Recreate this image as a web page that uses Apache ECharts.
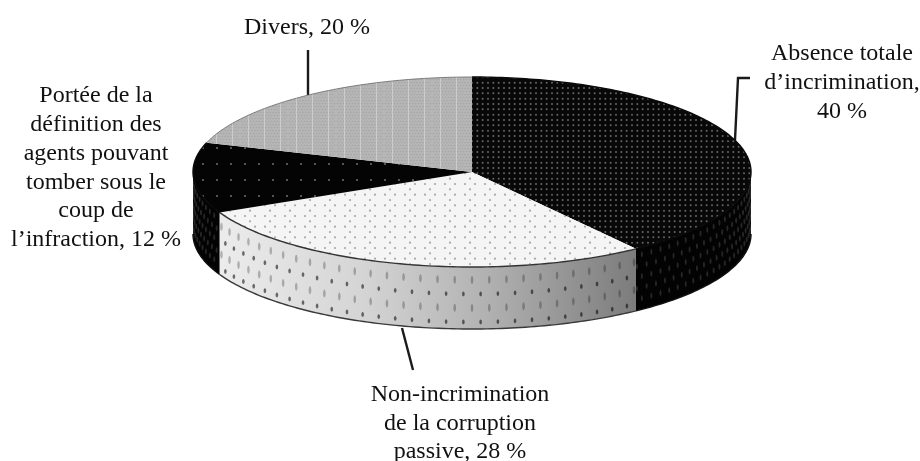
<!DOCTYPE html>
<html>
<head>
<meta charset="utf-8">
<style>
  html, body { margin: 0; padding: 0; background: #fff; }
  #the-chart { width: 920px; height: 461px; filter: blur(0.4px); }
</style>
<script src="https://cdn.jsdelivr.net/npm/echarts@6/dist/echarts.min.js"></script>
</head>
<body>
<div id="the-chart"></div>
<script>
// values, clockwise from 12 o'clock
const sliceNames = [
  "Absence totale d’incrimination",
  "Non-incrimination de la corruption passive",
  "Portée de la définition des agents pouvant tomber sous le coup de l’infraction",
  "Divers"
];
const sliceValues = [40, 28, 12, 20];

const labelAbsence = ["Absence totale", "d’incrimination,", "40 %"];
const labelNonIncrimination = ["Non-incrimination", "de la corruption", "passive, 28 %"];
const labelPortee = ["Portée de la", "définition des", "agents pouvant", "tomber sous le", "coup de", "l’infraction, 12 %"];
const labelDivers = ["Divers, 20 %"];

// disc geometry
const cx = 472, cy = 172, rx = 279, ry = 95, depth = 62;

function makeTile(w, h, bg, color, r, dots) {
  const c = document.createElement("canvas");
  c.width = w;
  c.height = h;
  const ctx = c.getContext("2d");
  ctx.fillStyle = bg;
  ctx.fillRect(0, 0, w, h);
  ctx.fillStyle = color;
  dots.forEach((d) => {
    ctx.beginPath();
    ctx.arc(d[0], d[1], r, 0, Math.PI * 2);
    ctx.fill();
  });
  return c;
}

function gridDots(w, h, stepX, stepY, stagger) {
  const out = [];
  let row = 0;
  for (let y = stepY / 2; y < h; y += stepY, row++) {
    for (let x = stepX / 2 + (stagger && row % 2 ? stepX / 2 : 0); x < w; x += stepX) {
      out.push([x, y]);
    }
  }
  return out;
}

function makeDiversTile() {
  const c = makeTile(48, 12, "#b6b6b6", "#a6a6a6", 0.8, gridDots(48, 12, 3, 3, true));
  const ctx = c.getContext("2d");
  ctx.fillStyle = "rgba(235,235,235,0.45)";
  [8, 24, 40].forEach((x) => ctx.fillRect(x, 0, 1, 12));
  return c;
}

const topFills = [
  { image: makeTile(16, 16, "#080808", "#666", 1, gridDots(16, 16, 16 / 3, 16 / 3, false)), repeat: "repeat" },
  { image: makeTile(20, 32, "#f5f5f5", "#a8a8a8", 1.1, gridDots(20, 32, 10, 16 / 3, true)), repeat: "repeat" },
  { image: makeTile(14, 16, "#040404", "#6a6a6a", 1.1, gridDots(14, 16, 14, 8, true)), repeat: "repeat" },
  { image: makeDiversTile(), repeat: "repeat" }
];

const sideFills = [
  "#030303",
  {
    type: "linear", global: true, x: 220, y: 0, x2: 636, y2: 0,
    colorStops: [
      { offset: 0, color: "#ececec" },
      { offset: 0.35, color: "#d4d4d4" },
      { offset: 0.65, color: "#b0b0b0" },
      { offset: 1, color: "#7c7c7c" }
    ]
  },
  "#030303",
  "#000"
];

function edgePoint(deg, drop) {
  const a = (deg * Math.PI) / 180;
  return [cx + rx * Math.sin(a), cy - ry * Math.cos(a) + (drop || 0)];
}

function arcPoints(from, to, drop) {
  const pts = [];
  const n = Math.max(2, Math.ceil(Math.abs(to - from)));
  for (let i = 0; i <= n; i++) {
    pts.push(edgePoint(from + ((to - from) * i) / n, drop));
  }
  return pts;
}

function sideDots(from, to, index) {
  const out = [];
  const light = index === 1;
  const step = light ? 3.55 : 2.5;
  const rows = light ? [13, 27, 41, 55] : [7, 18, 29, 40, 51];
  rows.forEach((drop, r) => {
    let k = Math.ceil((from - 180) / step);
    for (; 180 + k * step + (r % 2 ? step / 2 : 0) < to; k++) {
      const deg = 180 + k * step + (r % 2 ? step / 2 : 0);
      if (deg < from + 0.5) continue;
      const p = edgePoint(deg, drop);
      const strong = r % 2 === 1;
      out.push({
        type: "ellipse",
        shape: { cx: p[0], cy: p[1], rx: light ? 1.3 : 1, ry: light ? (strong ? 2.4 : 4) : 3 },
        style: { fill: light ? (strong ? "rgba(0,0,0,0.55)" : "rgba(0,0,0,0.25)") : "rgba(255,255,255,0.14)" },
        silent: true
      });
    }
  });
  return out;
}

function renderSlice(params, api) {
  const i = params.dataIndex;
  const total = sliceValues.reduce((a, b) => a + b, 0);
  const before = sliceValues.slice(0, i).reduce((a, b) => a + b, 0);
  const start = (before / total) * 360;
  const end = start + (api.value(0) / total) * 360;
  const children = [];

  // the wall exists only for the front half of the ellipse
  const sideFrom = Math.max(start, 90);
  const sideTo = Math.min(end, 270);
  if (sideTo > sideFrom) {
    const upper = arcPoints(sideFrom, sideTo, 0);
    const lower = arcPoints(sideTo, sideFrom, depth);
    children.push({
      type: "polygon",
      shape: { points: upper.concat(lower) },
      style: { fill: sideFills[i] }
    });
    children.push(...sideDots(sideFrom, sideTo, i));
    children.push({
      type: "polyline",
      shape: { points: arcPoints(sideFrom, sideTo, depth) },
      style: { fill: "none", stroke: i === 1 ? "#3a3a3a" : "#111", lineWidth: 1.4 }
    });
  }

  children.push({
    type: "polygon",
    shape: { points: [[cx, cy]].concat(arcPoints(start, end, 0)) },
    style: { fill: topFills[i] }
  });
  // rim line: dark on the light slice, invisible on the black ones
  children.push({
    type: "polyline",
    shape: { points: arcPoints(start, end, 0) },
    style: {
      fill: "none",
      stroke: i === 1 ? "#333" : i === 3 ? "#666" : "#0a0a0a",
      lineWidth: i === 3 ? 0.8 : 1.4
    }
  });
  return { type: "group", children: children };
}

function textBlock(lines, centerX, firstBaseline, lineGap) {
  return lines.map((line, n) => ({
    type: "text",
    x: centerX,
    y: firstBaseline + n * lineGap - 6,
    style: {
      text: line,
      fill: "#111",
      font: "24px 'Liberation Serif', 'Times New Roman', serif",
      align: "center",
      verticalAlign: "middle"
    }
  }));
}

function leader(points) {
  return {
    type: "polyline",
    shape: { points: points },
    style: { fill: "none", stroke: "#1a1a1a", lineWidth: 2.4 }
  };
}

const myChart = echarts.init(document.getElementById("the-chart"), null, { renderer: "canvas" });
myChart.setOption({
  animation: false,
  backgroundColor: "#fff",
  series: [
    {
      type: "custom",
      coordinateSystem: "none",
      name: "Répartition",
      data: sliceValues.map((v, i) => ({ name: sliceNames[i], value: [v] })),
      renderItem: renderSlice
    }
  ],
  graphic: [
    leader([[308, 50], [308, 95]]),
    leader([[735, 140], [738, 78], [750, 78]]),
    leader([[402, 328], [413, 370]]),
    ...textBlock(labelDivers, 307, 34, 29),
    ...textBlock(labelAbsence, 842, 60, 29),
    ...textBlock(labelNonIncrimination, 460, 401, 28.5),
    ...textBlock(labelPortee, 96, 102, 28.8)
  ]
});
</script>
</body>
</html>
